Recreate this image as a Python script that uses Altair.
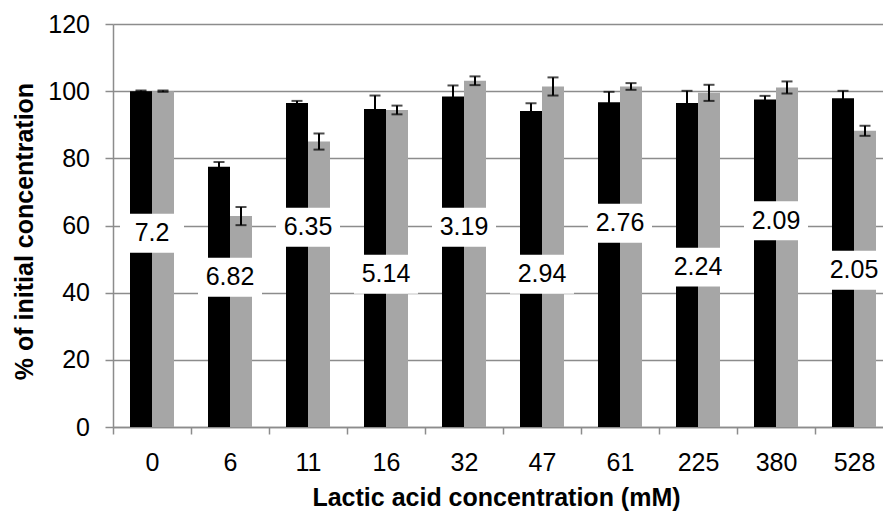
import altair as alt
import pandas as pd

# Lactic acid concentrations (mM) along the x axis
concentrations = ["0", "6", "11", "16", "32", "47", "61", "225", "380", "528"]
series_names = ["series 1", "series 2"]

# % of initial concentration, mean and error for each series
series1_values = [100.0, 77.5, 96.5, 94.7, 98.4, 94.1, 96.7, 96.5, 97.5, 97.9]
series1_errors = [0.2, 1.4, 0.6, 4.0, 3.3, 2.3, 3.1, 3.6, 1.1, 2.2]
series2_values = [100.0, 62.8, 85.0, 94.4, 103.1, 101.4, 101.4, 99.5, 101.1, 88.2]
series2_errors = [0.2, 2.7, 2.4, 1.3, 1.3, 2.7, 1.0, 2.4, 1.8, 1.5]

# pH annotation for each concentration
ph_labels = ["7.2", "6.82", "6.35", "5.14", "3.19", "2.94", "2.76", "2.24", "2.09", "2.05"]

# vertical placement of the pH boxes, in axis units
label_levels = [57.7, 44.6, 59.5, 45.5, 59.5, 45.5, 60.7, 47.6, 61.4, 46.7]
BOX_HALF = 5.8

bars_df = pd.DataFrame({
    "conc": concentrations * 2,
    "series": [series_names[0]] * len(concentrations) + [series_names[1]] * len(concentrations),
    "value": series1_values + series2_values,
    "err": series1_errors + series2_errors,
})
labels_df = pd.DataFrame({
    "conc": concentrations,
    "ph": ph_labels,
    "level": label_levels,
})

AXIS_GREY = "#8c8c8c"
FONT = "Liberation Sans"

x_enc = alt.X(
    "conc:N",
    sort=concentrations,
    scale=alt.Scale(domain=concentrations, range=[0, 780], paddingInner=0, paddingOuter=0),
    axis=alt.Axis(
        title="Lactic acid concentration (mM)",
        labelAngle=0,
        tickBand="extent",
        tickSize=7,
        labelPadding=16,
        titlePadding=10,
        titleX=383,
    ),
)
x_off = alt.XOffset(
    "series:N",
    sort=series_names,
    scale=alt.Scale(paddingInner=0, paddingOuter=0.773),
)
y_scale = alt.Scale(domain=[0, 120], nice=False, zero=True)

bars = alt.Chart(bars_df).mark_bar().encode(
    x=x_enc,
    xOffset=x_off,
    y=alt.Y(
        "value:Q",
        scale=y_scale,
        axis=alt.Axis(
            title="% of initial concentration",
            values=[0, 20, 40, 60, 80, 100, 120],
            grid=True,
            tickSize=8,
            labelPadding=15.5,
            titlePadding=10,
            titleY=207,
        ),
    ),
    color=alt.Color(
        "series:N",
        sort=series_names,
        scale=alt.Scale(domain=series_names, range=["#000000", "#a6a6a6"]),
        legend=None,
    ),
)

err_base = alt.Chart(bars_df).transform_calculate(
    lo="datum.value - datum.err",
    hi="datum.value + datum.err",
)
err_lines = err_base.mark_rule(color="black", strokeWidth=2).encode(
    x=x_enc, xOffset=x_off, y=alt.Y("lo:Q", scale=y_scale), y2="hi:Q"
)
err_caps_hi = err_base.mark_tick(color="black", thickness=2, size=11).encode(
    x=x_enc, xOffset=x_off, y=alt.Y("hi:Q", scale=y_scale)
)
err_caps_lo = err_base.mark_tick(color="black", thickness=2, size=11).encode(
    x=x_enc, xOffset=x_off, y=alt.Y("lo:Q", scale=y_scale)
)

label_base = alt.Chart(labels_df).transform_calculate(
    top=f"datum.level + {BOX_HALF}",
    bot=f"datum.level - {BOX_HALF}",
)
boxes = label_base.mark_bar(color="white", width=64).encode(
    x=x_enc, y=alt.Y("top:Q", scale=y_scale), y2="bot:Q"
)
texts = label_base.mark_text(fontSize=25, font=FONT, color="black", baseline="middle", align="center").encode(
    x=x_enc, y=alt.Y("level:Q", scale=y_scale), text="ph:N"
)

chart = (
    alt.layer(bars, err_lines, err_caps_hi, err_caps_lo, boxes, texts)
    .properties(
        width=770,
        height=403,
        autosize=alt.AutoSizeParams(type="none"),
        padding={"left": 113, "top": 24, "right": 0, "bottom": 84},
        background="white",
    )
    .configure_view(stroke="transparent")
    .configure_axis(
        domainColor=AXIS_GREY,
        tickColor=AXIS_GREY,
        gridColor=AXIS_GREY,
        domainWidth=1.5,
        tickWidth=1.5,
        gridWidth=1.5,
        labelFont=FONT,
        labelFontSize=25,
        labelColor="black",
        titleFont=FONT,
        titleFontSize=25,
        titleFontWeight="bold",
        titleColor="black",
    )
)

chart.save("out.html", embed_options={"renderer": "svg", "actions": False})
